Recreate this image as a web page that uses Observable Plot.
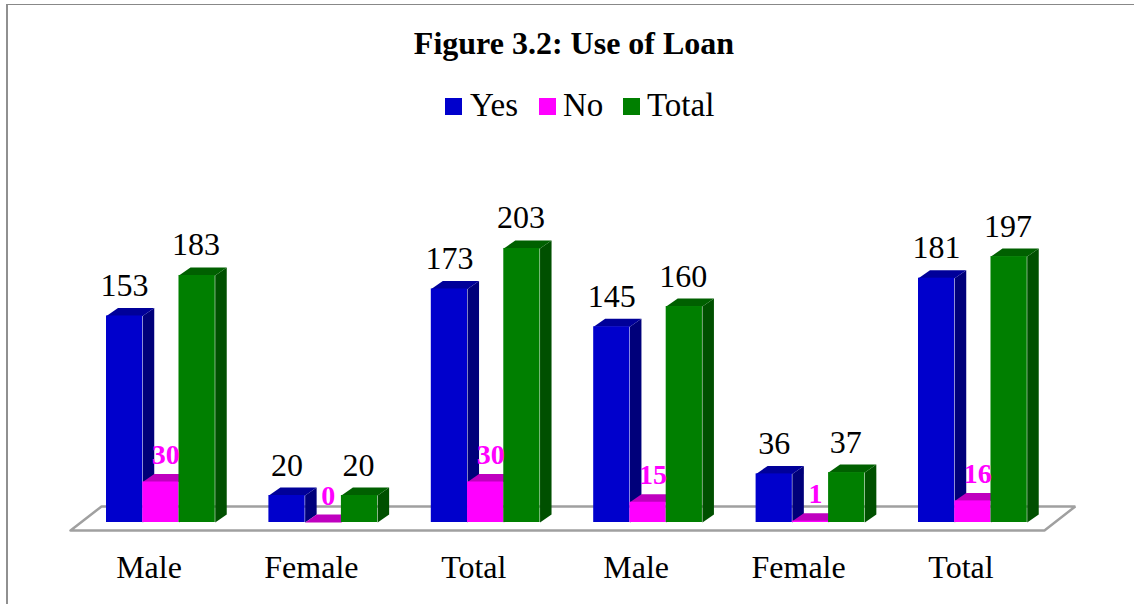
<!DOCTYPE html>
<html><head><meta charset="utf-8">
<script src="https://cdn.jsdelivr.net/npm/d3@7"></script>
<script src="https://cdn.jsdelivr.net/npm/@observablehq/plot@0.6"></script>
<style>
html,body{margin:0;padding:0;background:#fff;overflow:hidden;width:1134px;height:604px}
#wrap{position:relative;width:1134px;height:604px;font-family:"Liberation Serif",serif;color:#000}
#frame{position:absolute;left:6px;top:4px;width:1128px;height:600px;border-left:2px solid #909090;border-top:1.5px solid #888;box-sizing:border-box}
#title{position:absolute;left:0;width:1148px;top:25px;text-align:center;font-weight:bold;font-size:32px;line-height:36px}
#legend{position:absolute;left:445px;top:87px;font-size:33px;line-height:36px;white-space:nowrap}
#legend span.sw{position:absolute;top:11px;width:17px;height:17px}
#legend span.tx{position:absolute;top:0}
svg{position:absolute;left:0;top:0}
</style></head><body>
<div id="wrap"><div id="frame"></div><div id="chart"></div>
<div id="title">Figure 3.2: Use of Loan</div><div id="legend"></div></div>
<script>
const categories = ["Male","Female","Total","Male","Female","Total"];
const yes   = [153, 20, 173, 145, 36, 181];
const no    = [30, 0, 30, 15, 1, 16];
const total = [183, 20, 203, 160, 37, 197];
const seriesNames = ["Yes","No","Total"];
const seriesValues = [yes, no, total];
const frontColors = ["#0000CC","#FF00FF","#007F00"];
const topColors   = ["#000099","#BF00BF","#006000"];
const sideColors  = ["#00007A","#800080","#005000"];
const labelColors = ["#000000","#FF00FF","#000000"];

const pad = 0.1644, barW = 0.2232, depthX = 0.0708, depthY = 5.94;

const marks = [];
// floor
marks.push(Plot.line(
  [{x:-0.057,y:-5.9},{x:0.134,y:11.9},{x:6.13,y:11.9},{x:5.94,y:-5.9},{x:-0.057,y:-5.9}],
  {x:"x",y:"y",stroke:"#a0a0a0",strokeWidth:2.5,fill:"#fff",strokeLinejoin:"miter"}));

seriesValues.forEach((vals,s)=>{
  const rows = vals.map((v,i)=>({i,v,x1:i+pad+s*barW,x2:i+pad+(s+1)*barW}));
  const side = rows.flatMap(r=>[
    {z:r.i,x:r.x2,y:0},{z:r.i,x:r.x2+depthX,y:depthY},
    {z:r.i,x:r.x2+depthX,y:r.v+depthY},{z:r.i,x:r.x2,y:r.v}]);
  const top = rows.flatMap(r=>[
    {z:r.i,x:r.x1,y:r.v},{z:r.i,x:r.x1+depthX,y:r.v+depthY},
    {z:r.i,x:r.x2+depthX,y:r.v+depthY},{z:r.i,x:r.x2,y:r.v}]);
  marks.push(Plot.line(side,{x:"x",y:"y",z:"z",fill:sideColors[s],stroke:"none"}));
  marks.push(Plot.line(top,{x:"x",y:"y",z:"z",fill:topColors[s],stroke:"none"}));
  marks.push(Plot.rectY(rows,{x1:"x1",x2:"x2",y1:0,y2:"v",fill:frontColors[s]}));
});
seriesValues.forEach((vals,s)=>{
  const rows = vals.map((v,i)=>({v,x:i+pad+(s+0.5)*barW}));
  marks.push(Plot.text(rows,{x:"x",y:"v",text:d=>String(d.v),
    fill:labelColors[s],fontSize:s===1?28:32,fontWeight:s===1?"bold":"normal",
    lineAnchor:"bottom",dx:[0,5,-1][s],dy:s===1?-18:-20,fontFamily:"Liberation Serif"}));
});
marks.push(Plot.axisX({ticks:categories.map((c,i)=>i+0.5),tickFormat:t=>categories[Math.floor(t)],
  tickSize:0,tickPadding:33,dx:-12,fontSize:32,fontFamily:"Liberation Serif",label:null,color:"#000"}));

const chart = Plot.plot({
  width:1134,height:604,marginLeft:79.3,marginRight:80.3,marginTop:0,marginBottom:82,
  style:{background:"transparent",fontFamily:"Liberation Serif",overflow:"visible"},
  x:{domain:[0,6]},y:{domain:[0,386.7],axis:null},marks
});
document.getElementById("chart").append(chart);

const lg = document.getElementById("legend");
const swX=[0,94,178], txX=[25,118,202];
seriesNames.forEach((n,i)=>{
  const a=document.createElement("span");a.className="sw";a.style.left=swX[i]+"px";a.style.background=frontColors[i];
  const b=document.createElement("span");b.className="tx";b.style.left=txX[i]+"px";b.textContent=n;
  lg.append(a,b);
});
</script></body></html>
